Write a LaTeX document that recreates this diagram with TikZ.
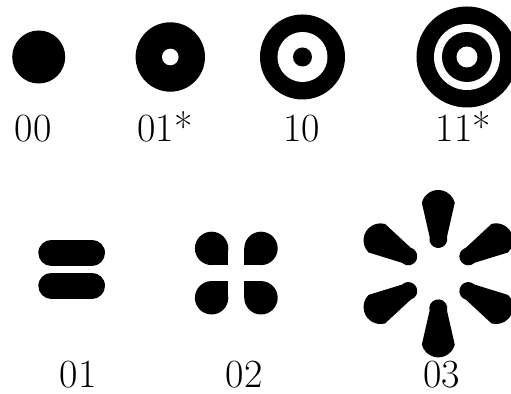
\documentclass[tikz,border=0pt]{standalone}
\usepackage{tikz}

\tikzset{code/.style={font=\fontsize{20}{24}\selectfont,anchor=base,inner sep=0pt}}

\begin{document}
\begin{tikzpicture}[x=0.5pt,y=0.5pt]
	\useasboundingbox (0,0) rectangle (511,394);
	\clip (0,0) rectangle (511,394);
	% ring codes
	\fill (38.7,337) circle (26.5);
	\fill (170.3,337) circle (34.7);
	\fill[white] (170.3,337) circle (8.3);
	\fill (302.5,337) circle (42.5);
	\fill[white] (302.5,337) circle (25);
	\fill (302.5,337) circle (9.5);
	\fill (467,337) circle (50.5);
	\fill[white] (467,337) circle (33);
	\fill (467,337) circle (25);
	\fill[white] (467,337) circle (10.5);
	\node[code] (c00) at (33.3,252) {00};
	\node[code] (c01) at (165,252) {01*};
	\node[code] (c10) at (301.7,252) {10};
	\node[code] (c11) at (463.3,252) {11*};
	% bars
	\draw[line width=13pt,line cap=round] (51.3,141.2) -- (92,141.2);
	\draw[line width=13pt,line cap=round] (51.3,108.3) -- (92,108.3);
	% quarter drops
	\foreach \sx/\sy in {-1/1,1/1,-1/-1,1/-1} {
		\fill (236.3+\sx*24.7,120.9+\sy*24.7) circle (16.7);
		\fill (236.3+\sx*24.7,120.9+\sy*24.7) rectangle (236.3+\sx*8,120.9+\sy*8);
	}
	% six petals
	\foreach \a in {30,90,...,330} {
		\begin{scope}[shift={(438.3,120.3)},rotate=\a]
			\fill (36.95,8.71) -- (70.95,16.46) arc[start angle=75.5,end angle=-75.5,radius=17]
				-- (36.95,-8.71) arc[start angle=-75.5,end angle=-284.5,radius=9] -- cycle;
		\end{scope}
	}
	\node[code] (b01) at (78.3,6) {01};
	\node[code] (b02) at (244.2,6) {02};
	\node[code] (b03) at (441.7,6) {03};
\end{tikzpicture}
\end{document}
